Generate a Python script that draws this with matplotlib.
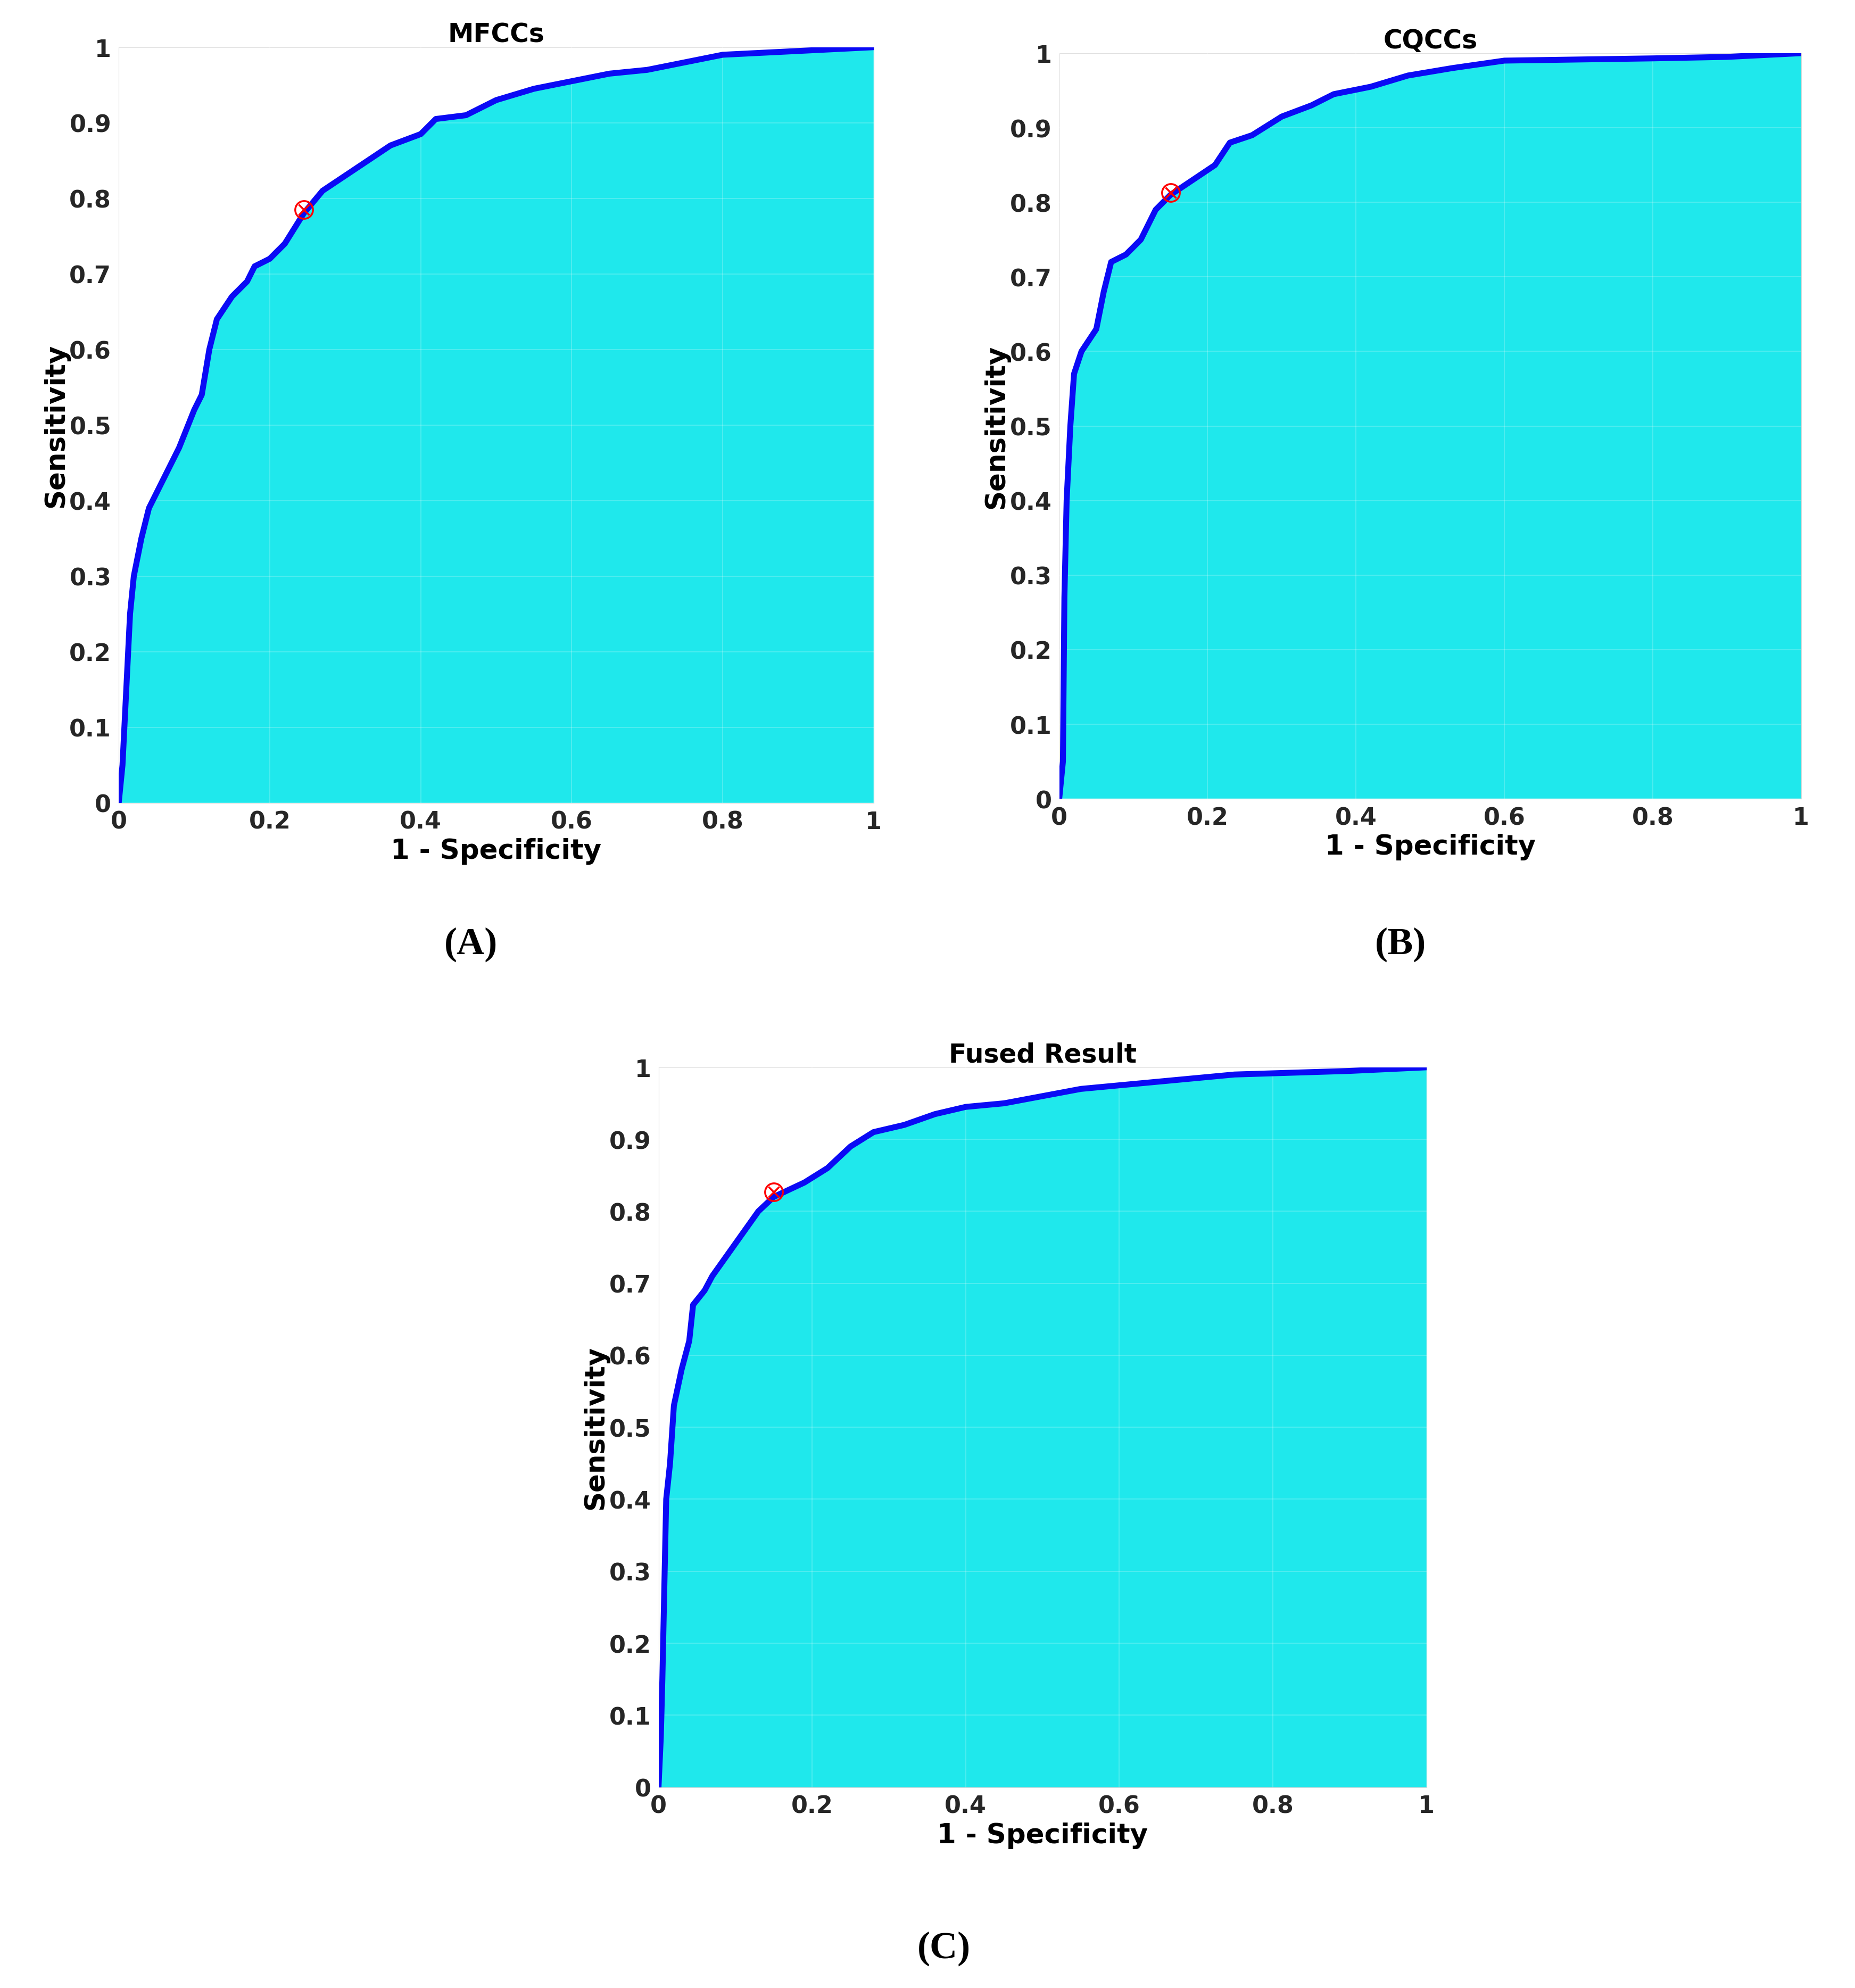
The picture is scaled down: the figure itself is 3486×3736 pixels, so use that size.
import matplotlib
matplotlib.use("Agg")
import matplotlib.pyplot as plt
import numpy as np

# ROC curves (1 - specificity, sensitivity)
mfcc_fpr = [0, 0.005, 0.01, 0.015, 0.02, 0.03, 0.04, 0.06, 0.08, 0.1, 0.11, 0.12, 0.13, 0.15, 0.17,
            0.18, 0.2, 0.22, 0.245, 0.27, 0.3, 0.33, 0.36, 0.4, 0.42, 0.46, 0.5, 0.55, 0.6, 0.65,
            0.7, 0.75, 0.8, 0.9, 1.0]
mfcc_tpr = [0, 0.05, 0.15, 0.25, 0.3, 0.35, 0.39, 0.43, 0.47, 0.52, 0.54, 0.6, 0.64, 0.67, 0.69,
            0.71, 0.72, 0.74, 0.78, 0.81, 0.83, 0.85, 0.87, 0.885, 0.905, 0.91, 0.93, 0.945, 0.955,
            0.965, 0.97, 0.98, 0.99, 0.995, 1.0]
mfcc_op = (0.245, 0.785)

cqcc_fpr = [0, 0.005, 0.007, 0.01, 0.015, 0.02, 0.03, 0.05, 0.06, 0.07, 0.09, 0.11, 0.13, 0.15,
            0.18, 0.21, 0.23, 0.26, 0.3, 0.34, 0.37, 0.42, 0.47, 0.53, 0.6, 0.8, 0.9, 1.0]
cqcc_tpr = [0, 0.05, 0.27, 0.4, 0.5, 0.57, 0.6, 0.63, 0.68, 0.72, 0.73, 0.75, 0.79, 0.81,
            0.83, 0.85, 0.88, 0.89, 0.915, 0.93, 0.945, 0.955, 0.97, 0.98, 0.99, 0.993, 0.995, 1.0]
cqcc_op = (0.15, 0.813)

fused_fpr = [0, 0.003, 0.005, 0.008, 0.01, 0.015, 0.02, 0.03, 0.04, 0.045, 0.06, 0.07, 0.09, 0.11,
             0.13, 0.15, 0.19, 0.22, 0.25, 0.28, 0.32, 0.36, 0.4, 0.45, 0.5, 0.55, 0.65, 0.75, 0.9, 1.0]
fused_tpr = [0, 0.07, 0.15, 0.3, 0.4, 0.45, 0.53, 0.58, 0.62, 0.67, 0.69, 0.71, 0.74, 0.77,
             0.8, 0.82, 0.84, 0.86, 0.89, 0.91, 0.92, 0.935, 0.945, 0.95, 0.96, 0.97, 0.98, 0.99,
             0.995, 1.0]
fused_op = (0.15, 0.827)

panels = [
    ("MFCCs", "(A)", mfcc_fpr, mfcc_tpr, mfcc_op, [0.064, 0.596, 0.407, 0.380], (0.254, 0.525)),
    ("CQCCs", "(B)", cqcc_fpr, cqcc_tpr, cqcc_op, [0.571, 0.598, 0.400, 0.375], (0.755, 0.525)),
    ("Fused Result", "(C)", fused_fpr, fused_tpr, fused_op, [0.355, 0.101, 0.414, 0.362], (0.509, 0.020)),
]

FILL = "#1fe8ec"
LINE = "#0a0af5"

fig = plt.figure(figsize=(34.86, 37.37), dpi=100)

for title, tag, fpr, tpr, op, rect, tagpos in panels:
    ax = fig.add_axes(rect)
    ax.fill_between(fpr, tpr, 0, color=FILL, zorder=1)
    ax.plot(fpr, tpr, color=LINE, linewidth=8, zorder=3)
    ax.plot(*op, marker="o", markersize=24, markerfacecolor="none",
            markeredgecolor="red", markeredgewidth=2.5, zorder=4)
    ax.plot(*op, marker="x", markersize=15, color="red", markeredgewidth=2.5, zorder=4)
    ax.set_xlim(0, 1)
    ax.set_ylim(0, 1)
    ax.set_xticks(np.arange(0, 1.01, 0.2))
    ax.set_yticks(np.arange(0, 1.01, 0.1))
    ax.set_xticklabels(["0", "0.2", "0.4", "0.6", "0.8", "1"])
    ax.set_yticklabels(["0"] + [f"{v:.1f}" for v in np.arange(0.1, 0.95, 0.1)] + ["1"])
    ax.grid(True, color="white", linewidth=1.2, alpha=0.25, zorder=2)
    ax.set_axisbelow(False)
    ax.tick_params(length=0, labelsize=32, pad=10)
    for lab in ax.get_xticklabels() + ax.get_yticklabels():
        lab.set_fontweight("bold")
        lab.set_color("#262626")
    for s in ax.spines.values():
        s.set_color("#d8d8d8")
    ax.set_title(title, fontsize=35, fontweight="bold", pad=6)
    ax.set_xlabel("1 - Specificity", fontsize=37, fontweight="bold", labelpad=6)
    ax.set_ylabel("Sensitivity", fontsize=37, fontweight="bold", labelpad=0)
    fig.text(tagpos[0], tagpos[1], tag, fontsize=52, fontweight="bold",
             family="Liberation Serif", ha="center", va="center")

fig.savefig("out.png", dpi=100, facecolor="white")
